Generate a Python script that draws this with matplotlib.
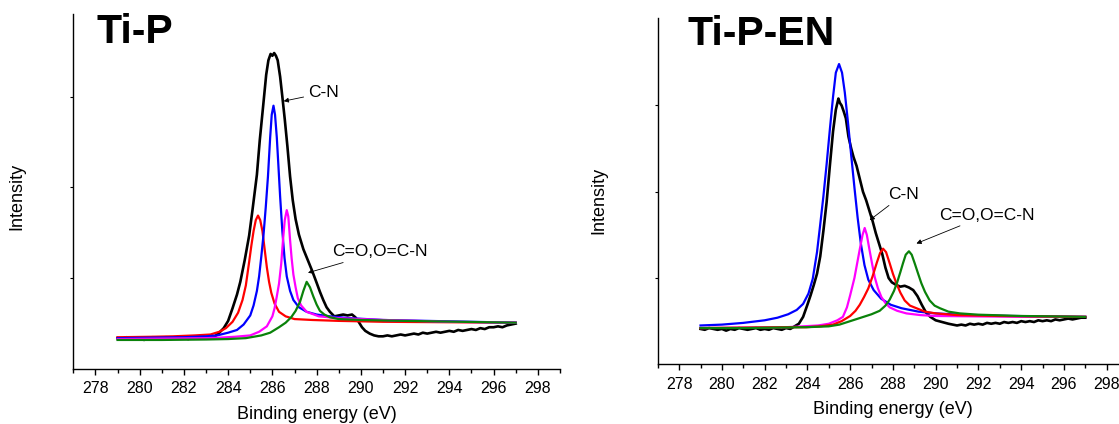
# XPS C 1s spectra of Ti-P and Ti-P-EN with fitted components

import matplotlib
matplotlib.use("Agg")
import matplotlib.pyplot as plt
from matplotlib.ticker import MultipleLocator, NullFormatter

plt.rcParams["font.family"] = ["Liberation Sans", "DejaVu Sans"]

# ------------------------------
# Ti-P data
# ------------------------------
tip_raw_x = [279.0, 279.2, 279.4, 279.6, 279.8, 280.0, 280.2, 280.4, 280.6, 280.8,
             281.0, 281.2, 281.4, 281.6, 281.8, 282.0, 282.2, 282.4, 282.6, 282.8,
             283.0, 283.2, 283.4, 283.6, 283.8, 284.0, 284.2, 284.4, 284.55, 284.75,
             284.95, 285.1, 285.3, 285.43, 285.58, 285.72, 285.82, 285.92, 286.0, 286.08,
             286.16, 286.24, 286.35, 286.45, 286.56, 286.68, 286.8, 286.92, 287.05, 287.2,
             287.4, 287.6, 287.8, 288.0, 288.15, 288.3, 288.45, 288.6, 288.8, 289.0,
             289.2, 289.4, 289.6, 289.75, 289.9, 290.05, 290.2, 290.4, 290.6, 290.8,
             291.0, 291.2, 291.4, 291.6, 291.8, 292.0, 292.2, 292.4, 292.6, 292.8,
             293.0, 293.2, 293.4, 293.6, 293.8, 294.0, 294.2, 294.4, 294.6, 294.8,
             295.0, 295.2, 295.4, 295.6, 295.8, 296.0, 296.2, 296.4, 296.6, 296.8,
             297.0]
tip_raw_y = [0.34, 0.33, 0.35, 0.34, 0.33, 0.34, 0.32, 0.34, 0.35, 0.33,
             0.34, 0.35, 0.33, 0.34, 0.36, 0.34, 0.33, 0.35, 0.34, 0.35,
             0.34, 0.35, 0.36, 0.40, 0.45, 0.53, 0.67, 0.82, 0.96, 1.20,
             1.47, 1.75, 2.14, 2.52, 2.89, 3.24, 3.40, 3.47, 3.45, 3.48,
             3.45, 3.40, 3.22, 3.00, 2.75, 2.45, 2.12, 1.86, 1.65, 1.48,
             1.32, 1.20, 1.08, 0.95, 0.85, 0.76, 0.68, 0.63, 0.58, 0.59,
             0.60, 0.59, 0.60, 0.57, 0.52, 0.46, 0.42, 0.39, 0.37, 0.36,
             0.36, 0.37, 0.36, 0.37, 0.38, 0.37, 0.38, 0.39, 0.38, 0.40,
             0.39, 0.40, 0.41, 0.40, 0.41, 0.42, 0.41, 0.43, 0.42, 0.43,
             0.44, 0.43, 0.45, 0.44, 0.46, 0.46, 0.47, 0.46, 0.48, 0.49,
             0.50]

tip_red_x = [279.0, 280.5, 281.5, 282.5, 283.2, 283.6, 283.9, 284.2, 284.45, 284.65,
             284.8, 284.95, 285.05, 285.15, 285.25, 285.35, 285.45, 285.55, 285.65, 285.75,
             285.85, 285.95, 286.1, 286.3, 286.6, 287.0, 287.8, 289.0, 291.0, 294.0, 297.0]
tip_red_y = [0.35, 0.355, 0.36, 0.37, 0.38, 0.41, 0.45, 0.52, 0.62, 0.76,
             0.92, 1.18, 1.36, 1.52, 1.64, 1.69, 1.64, 1.52, 1.32, 1.12,
             0.96, 0.84, 0.72, 0.63, 0.58, 0.55, 0.54, 0.53, 0.52, 0.515, 0.51]

tip_blue_x = [279.0, 280.5, 282.0, 283.0, 283.5, 284.0, 284.4, 284.7, 285.0, 285.15,
              285.3, 285.4, 285.5, 285.6, 285.7, 285.8, 285.9, 285.97, 286.05, 286.12,
              286.2, 286.27, 286.35, 286.45, 286.55, 286.65, 286.8, 286.95, 287.2, 287.55,
              288.0, 288.6, 289.5, 291.0, 293.0, 295.0, 297.0]
tip_blue_y = [0.34, 0.345, 0.35, 0.36, 0.37, 0.40, 0.43, 0.49, 0.59, 0.70,
              0.86, 1.02, 1.24, 1.48, 1.78, 2.12, 2.55, 2.80, 2.90, 2.80,
              2.55, 2.25, 1.90, 1.52, 1.22, 1.02, 0.86, 0.76, 0.68, 0.63,
              0.60, 0.58, 0.56, 0.54, 0.53, 0.52, 0.51]

tip_magenta_x = [279.0, 281.0, 283.0, 283.6, 284.3, 285.0, 285.4, 285.75, 286.0, 286.1,
                 286.2, 286.3, 286.4, 286.48, 286.56, 286.65, 286.72, 286.8, 286.87, 286.95,
                 287.05, 287.15, 287.3, 287.55, 288.1, 289.0, 291.0, 294.0, 297.0]
tip_magenta_y = [0.33, 0.335, 0.34, 0.345, 0.355, 0.37, 0.41, 0.47, 0.58, 0.67,
                 0.80, 0.94, 1.16, 1.42, 1.64, 1.75, 1.68, 1.42, 1.22, 1.04,
                 0.90, 0.78, 0.70, 0.63, 0.58, 0.56, 0.54, 0.52, 0.51]

tip_green_x = [279.0, 281.0, 283.0, 284.0, 284.8, 285.5, 285.9, 286.3, 286.6, 286.85,
               287.05, 287.25, 287.4, 287.55, 287.7, 287.85, 288.0, 288.15, 288.35, 288.6,
               289.0, 290.0, 292.0, 294.5, 297.0]
tip_green_y = [0.32, 0.32, 0.325, 0.33, 0.34, 0.37, 0.40, 0.46, 0.51, 0.57,
               0.64, 0.74, 0.86, 0.96, 0.90, 0.80, 0.71, 0.64, 0.60, 0.57,
               0.55, 0.54, 0.53, 0.52, 0.51]

# ------------------------------
# Ti-P-EN data
# ------------------------------
en_raw_x = [279.0, 279.2, 279.4, 279.6, 279.8, 280.0, 280.2, 280.4, 280.6, 280.8,
            281.0, 281.2, 281.4, 281.6, 281.8, 282.0, 282.2, 282.4, 282.6, 282.8,
            283.0, 283.2, 283.4, 283.6, 283.8, 284.0, 284.15, 284.3, 284.45, 284.6,
            284.75, 284.9, 285.05, 285.2, 285.33, 285.45, 285.52, 285.6, 285.7, 285.8,
            285.92, 286.05, 286.16, 286.3, 286.45, 286.6, 286.75, 286.9, 287.05, 287.2,
            287.35, 287.5, 287.65, 287.8, 287.95, 288.15, 288.35, 288.55, 288.75, 288.95,
            289.15, 289.35, 289.55, 289.75, 290.0, 290.3, 290.6, 290.8, 291.0, 291.2,
            291.4, 291.6, 291.8, 292.0, 292.2, 292.4, 292.6, 292.8, 293.0, 293.2,
            293.4, 293.6, 293.8, 294.0, 294.2, 294.4, 294.6, 294.8, 295.0, 295.2,
            295.4, 295.6, 295.8, 296.0, 296.2, 296.4, 296.6, 296.8, 297.0]
en_raw_y = [0.41, 0.40, 0.42, 0.41, 0.40, 0.41, 0.39, 0.41, 0.40, 0.42,
            0.41, 0.40, 0.41, 0.42, 0.40, 0.41, 0.40, 0.42, 0.41, 0.40,
            0.42, 0.41, 0.44, 0.47, 0.55, 0.69, 0.80, 0.92, 1.05, 1.25,
            1.55, 1.88, 2.30, 2.70, 2.95, 3.08, 3.03, 3.00, 2.93, 2.85,
            2.64, 2.50, 2.40, 2.30, 2.15, 2.00, 1.90, 1.78, 1.66, 1.52,
            1.40, 1.28, 1.12, 1.00, 0.95, 0.92, 0.90, 0.91, 0.89, 0.86,
            0.79, 0.69, 0.60, 0.55, 0.51, 0.49, 0.47, 0.46, 0.45, 0.46,
            0.45, 0.47, 0.46, 0.47, 0.46, 0.48, 0.47, 0.48, 0.47, 0.49,
            0.48, 0.49, 0.48, 0.50, 0.49, 0.50, 0.49, 0.51, 0.50, 0.51,
            0.50, 0.52, 0.51, 0.52, 0.53, 0.52, 0.53, 0.54, 0.54]

en_blue_x = [279.0, 280.0, 281.0, 282.0, 282.6, 283.1, 283.5, 283.8, 284.05, 284.25,
             284.45, 284.6, 284.75, 284.9, 285.05, 285.2, 285.33, 285.48, 285.62, 285.75,
             285.9, 286.05, 286.2, 286.35, 286.5, 286.67, 286.85, 287.1, 287.45, 287.9,
             288.4, 289.2, 290.0, 291.5, 293.5, 295.5, 297.0]
en_blue_y = [0.45, 0.46, 0.48, 0.51, 0.54, 0.58, 0.63, 0.70, 0.82, 0.99,
             1.30, 1.62, 1.95, 2.32, 2.72, 3.10, 3.38, 3.48, 3.38, 3.15,
             2.80, 2.42, 2.05, 1.70, 1.40, 1.15, 0.98, 0.86, 0.76, 0.69,
             0.65, 0.61, 0.59, 0.57, 0.56, 0.555, 0.55]

en_magenta_x = [279.0, 281.0, 283.0, 283.8, 284.5, 285.0, 285.4, 285.66, 285.85, 286.0,
                286.2, 286.44, 286.58, 286.68, 286.78, 286.91, 287.03, 287.15, 287.3, 287.46,
                287.65, 287.85, 288.2, 288.63, 289.3, 290.0, 292.0, 294.5, 297.0]
en_magenta_y = [0.42, 0.425, 0.43, 0.44, 0.45, 0.47, 0.51, 0.55, 0.66, 0.80,
                1.00, 1.32, 1.50, 1.58, 1.50, 1.32, 1.16, 1.01, 0.88, 0.78,
                0.71, 0.66, 0.62, 0.59, 0.57, 0.56, 0.555, 0.55, 0.55]

en_red_x = [279.0, 281.0, 283.0, 283.95, 284.6, 285.2, 285.6, 286.0, 286.25, 286.45,
            286.65, 286.85, 287.05, 287.25, 287.4, 287.54, 287.68, 287.85, 288.0, 288.16,
            288.35, 288.55, 288.8, 289.1, 289.5, 290.0, 291.0, 293.0, 295.0, 297.0]
en_red_y = [0.42, 0.425, 0.43, 0.43, 0.44, 0.46, 0.50, 0.56, 0.62, 0.69,
            0.78, 0.88, 1.02, 1.18, 1.29, 1.34, 1.30, 1.17, 1.05, 0.94,
            0.83, 0.74, 0.68, 0.65, 0.61, 0.59, 0.57, 0.56, 0.555, 0.55]

en_green_x = [279.0, 281.0, 282.5, 283.95, 285.0, 285.5, 286.0, 286.5, 287.0, 287.38,
              287.65, 287.85, 288.05, 288.2, 288.35, 288.47, 288.6, 288.75, 288.88, 289.02,
              289.18, 289.33, 289.5, 289.72, 289.95, 290.2, 290.6, 291.13, 292.0, 294.0,
              297.0]
en_green_y = [0.42, 0.42, 0.425, 0.43, 0.44, 0.46, 0.50, 0.54, 0.58, 0.62,
              0.68, 0.75, 0.85, 0.95, 1.07, 1.17, 1.27, 1.31, 1.27, 1.17,
              1.05, 0.94, 0.84, 0.74, 0.68, 0.65, 0.61, 0.59, 0.575, 0.56,
              0.55]

fig = plt.figure(figsize=(11.19, 4.24), dpi=100)

# axes placed by hand to match the picture (right one runs off the edge)
ax1 = fig.add_axes([0.0655, 0.1297, 0.4349, 0.8373])
ax2 = fig.add_axes([0.5878, 0.1408, 0.4203, 0.8160])

green = "#0a820a"


def style_axis(ax, top):
    ax.set_xlim(277, 299)
    ax.set_ylim(0, top)
    ax.spines["top"].set_visible(False)
    ax.spines["right"].set_visible(False)
    ax.spines["left"].set_linewidth(1.0)
    ax.spines["bottom"].set_linewidth(1.0)
    ax.xaxis.set_major_locator(MultipleLocator(2))
    ax.xaxis.set_minor_locator(MultipleLocator(1))
    ax.set_yticks([1, 2, 3])
    ax.yaxis.set_major_formatter(NullFormatter())
    ax.tick_params(axis="x", which="major", length=4.3, width=1.0, labelsize=11.5, pad=4.5)
    ax.tick_params(axis="x", which="minor", length=2.7, width=1.0)
    ax.tick_params(axis="y", which="major", length=2.5, width=0.8)
    ax.set_xlabel("Binding energy (eV)", fontsize=13, labelpad=7)
    ax.set_ylabel("Intensity", fontsize=13)


# Ti-P panel
ax1.plot(tip_raw_x, tip_raw_y, color="black", lw=1.9)
ax1.plot(tip_red_x, tip_red_y, color="#ff0000", lw=1.6)
ax1.plot(tip_blue_x, tip_blue_y, color="#0000ff", lw=1.6)
ax1.plot(tip_magenta_x, tip_magenta_y, color="#ff00ff", lw=1.6)
ax1.plot(tip_green_x, tip_green_y, color=green, lw=1.6)
style_axis(ax1, 3.91)
ax1.yaxis.set_label_coords(-0.099, 0.485)

arrow = dict(arrowstyle="-|>", mutation_scale=7, lw=0.6, color="black",
             shrinkA=1, shrinkB=0)
ax1.annotate("C-N", xy=(286.51, 2.95), xytext=(287.6, 3.04),
             fontsize=12.5, va="center", ha="left", arrowprops=arrow)
ax1.annotate("C=O,O=C-N", xy=(287.61, 1.06), xytext=(288.7, 1.29),
             fontsize=12.5, va="center", ha="left", arrowprops=arrow)

# Ti-P-EN panel
ax2.plot(en_raw_x, en_raw_y, color="black", lw=1.9)
ax2.plot(en_blue_x, en_blue_y, color="#0000ff", lw=1.6)
ax2.plot(en_magenta_x, en_magenta_y, color="#ff00ff", lw=1.6)
ax2.plot(en_red_x, en_red_y, color="#ff0000", lw=1.6)
ax2.plot(en_green_x, en_green_y, color=green, lw=1.6)
style_axis(ax2, 4.01)
ax2.yaxis.set_label_coords(-0.108, 0.475)

ax2.annotate("C-N", xy=(286.91, 1.67), xytext=(287.78, 1.97),
             fontsize=12.5, va="center", ha="left", arrowprops=arrow)
ax2.annotate("C=O,O=C-N", xy=(289.1, 1.40), xytext=(290.15, 1.73),
             fontsize=12.5, va="center", ha="left", arrowprops=arrow)

# panel titles
fig.text(0.0858, 0.8986, "Ti-P", fontsize=29.5, fontweight="bold", va="baseline")
fig.text(0.614, 0.894, "Ti-P-EN", fontsize=29.5, fontweight="bold", va="baseline")

fig.savefig("out.png", dpi=100)
